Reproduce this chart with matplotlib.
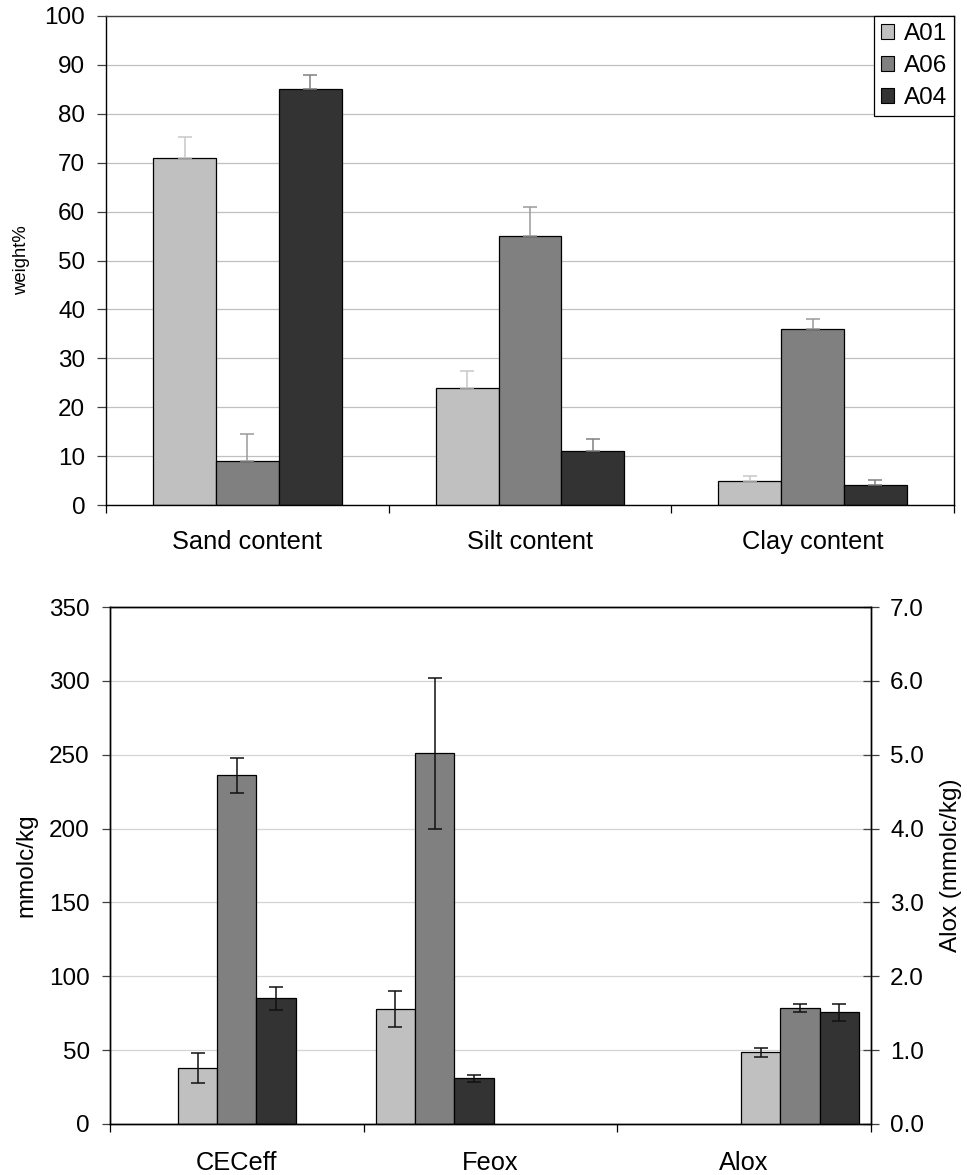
import matplotlib
matplotlib.use('Agg')
import matplotlib.pyplot as plt
import numpy as np
from matplotlib.patches import Patch

plt.rcParams['font.family'] = ['Liberation Sans', 'DejaVu Sans']

# ---------------- data ----------------
series = ['A01', 'A06', 'A04']
colors = ['#c0c0c0', '#808080', '#333333']
err_colors_top = ['#c8c8c8', '#9a9a9a', '#808080']

texture_cats = ['Sand content', 'Silt content', 'Clay content']
texture_A01 = [71, 24, 5]
texture_A06 = [9, 55, 36]
texture_A04 = [85, 11, 4]
texture_err_A01 = [4.2, 3.4, 0.9]
texture_err_A06 = [5.6, 6.0, 2.1]
texture_err_A04 = [3.0, 2.5, 1.2]

chem_cats = ['CECeff', 'Feox', 'Alox']
# values per series (A01, A06, A04)
cec = [38, 236, 85]
cec_err = [10, 12, 8]
feox = [78, 251, 31]
feox_err = [12, 51, 2.3]
alox = [0.97, 1.57, 1.51]        # secondary axis
alox_err = [0.065, 0.06, 0.11]

top_yticks = list(range(0, 101, 10))
bot_yticks = list(range(0, 351, 50))
bot_y2ticks = [0.0, 1.0, 2.0, 3.0, 4.0, 5.0, 6.0, 7.0]

# ---------------- layout ----------------
FS = 17.5
FSX = 18.3
fig = plt.figure(figsize=(9.67, 11.75), dpi=100)

ax1 = fig.add_axes([106 / 967, 1 - 505 / 1175, (954 - 106) / 967, (505 - 16) / 1175])
ax = fig.add_axes([110 / 967, 1 - 1124 / 1175, (871 - 110) / 967, (1124 - 607) / 1175])

# ---------------- top chart ----------------
tvals = [texture_A01, texture_A06, texture_A04]
terrs = [texture_err_A01, texture_err_A06, texture_err_A04]
x = np.arange(len(texture_cats))
w = 2 / 9
for i, (vals, errs) in enumerate(zip(tvals, terrs)):
    pos = x + (i - 1) * w
    ax1.bar(pos, vals, width=w, color=colors[i], edgecolor='black', linewidth=0.9,
            zorder=2, label=series[i])
    ax1.errorbar(pos, vals, yerr=[np.zeros(len(vals)), errs], fmt='none',
                 ecolor=err_colors_top[i], elinewidth=1.1, capsize=5, capthick=1.1, zorder=3)

ax1.set_xlim(-0.5, 2.5)
ax1.set_ylim(0, 100)
ax1.set_yticks(top_yticks)
ax1.yaxis.grid(True, color='#c0c0c0', linewidth=0.9)
ax1.set_axisbelow(True)
ax1.set_xticks(x)
ax1.set_xticklabels(texture_cats)
ax1.set_xticks([-0.5, 0.5, 1.5, 2.5], minor=True)
ax1.tick_params(axis='x', which='major', length=0, pad=18, labelsize=FSX)
ax1.tick_params(axis='x', which='minor', length=6, width=0.9, direction='out')
ax1.tick_params(axis='y', length=6.5, width=0.9, color='#404040', pad=8.5, labelsize=FS)
for s in ax1.spines.values():
    s.set_linewidth(1.0)
    s.set_color('black')
ax1.spines['top'].set_color('#404040')
ax1.set_ylabel('weight%', fontsize=13.3)
ax1.yaxis.label.set_va('center')
ax1.yaxis.set_label_coords((22 - 106) / 848, 0.5)

handles = [Patch(facecolor=c, edgecolor='black', linewidth=0.8) for c in colors]
leg = ax1.legend(handles, series, loc='upper right', bbox_to_anchor=(1, 1), borderaxespad=0,
                 fancybox=False, edgecolor='black', framealpha=1, fontsize=FS,
                 handlelength=0.55, handleheight=0.55, handletextpad=0.4,
                 labelspacing=0.42, borderpad=0.28)
leg.get_frame().set_linewidth(0.9)

# ---------------- bottom chart ----------------
group_shift = [0.0, -0.22, 0.22]
bw = 0.155
xb = np.arange(len(chem_cats))
ax2 = ax.twinx()

for i in range(3):
    off = (i - 1) * bw
    # CECeff and Feox on primary axis
    p_pos = np.array([xb[0] + group_shift[0] + off, xb[1] + group_shift[1] + off])
    p_val = [cec[i], feox[i]]
    p_err = [cec_err[i], feox_err[i]]
    ax.bar(p_pos, p_val, width=bw, color=colors[i], edgecolor='black', linewidth=0.9, zorder=2)
    ax.errorbar(p_pos, p_val, yerr=p_err, fmt='none', ecolor='#111111',
                elinewidth=1.1, capsize=5, capthick=1.1, zorder=3)
    # Alox on secondary axis
    a_pos = xb[2] + group_shift[2] + off
    ax2.bar([a_pos], [alox[i]], width=bw, color=colors[i], edgecolor='black', linewidth=0.9, zorder=2)
    ax2.errorbar([a_pos], [alox[i]], yerr=[alox_err[i]], fmt='none', ecolor='#111111',
                 elinewidth=1.1, capsize=5, capthick=1.1, zorder=3)

ax.set_xlim(-0.5, 2.5)
ax.set_ylim(0, 350)
ax2.set_ylim(0, 7)
ax.set_yticks(bot_yticks)
ax2.set_yticks(bot_y2ticks)
ax2.set_yticklabels([f'{v:.1f}' for v in bot_y2ticks])
ax.yaxis.grid(True, color='#d4d4d4', linewidth=0.9)
ax.set_axisbelow(True)
ax.set_xticks(xb)
ax.set_xticklabels(chem_cats)
ax.set_xticks([-0.5, 0.5, 1.5, 2.5], minor=True)
ax.tick_params(axis='x', which='major', length=0, pad=19.5, labelsize=FSX)
ax.tick_params(axis='x', which='minor', length=6, width=0.9, direction='out')
ax.tick_params(axis='y', length=6, width=0.9, color='#404040', pad=8.5, labelsize=FS)
ax2.tick_params(axis='y', direction='inout', length=11.5, width=0.9, color='#404040',
                pad=8, labelsize=FS)
for a in (ax, ax2):
    for s in a.spines.values():
        s.set_linewidth(1.0)
        s.set_color('black')

ax.set_ylabel('mmolc/kg', fontsize=FS)
ax.yaxis.label.set_va('center')
ax.yaxis.set_label_coords((26 - 110) / 761, 0.5)
ax2.set_ylabel('Alox (mmolc/kg)', fontsize=FS)
ax2.yaxis.label.set_va('center')
ax2.yaxis.set_label_coords((951 - 110) / 761, 0.5)

fig.savefig('out.png', dpi=100)
